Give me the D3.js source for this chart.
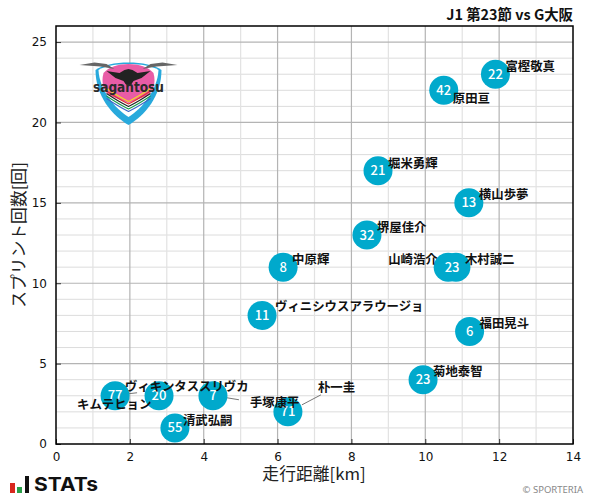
<!DOCTYPE html>
<html><head><meta charset="utf-8">
<script src="https://cdnjs.cloudflare.com/ajax/libs/d3/7.8.5/d3.min.js"></script>
<style>html,body{margin:0;padding:0;background:#fff}svg{display:block}</style>
</head><body><svg id="c" width="591" height="496"></svg>
<script>
const playerNames=["富樫敬真","原田亘","堀米勇輝","横山歩夢","堺屋佳介","中原輝","山崎浩介","木村誠二","ヴィニシウスアラウージョ","福田晃斗","菊地泰智","ヴィキンタススリヴカ","キムテヒョン","手塚康平","朴一圭","清武弘嗣"];
const shirtNumbers=[22,42,21,13,32,8,23,23,11,6,23,77,20,7,71,55];
const distanceKm=[11.9,10.5,8.72,11.18,8.42,6.15,10.62,10.83,5.58,11.2,9.94,1.6,2.79,4.25,6.28,3.22];
const sprints=[23,22,17,15,13,11,11,11,8,7,4,3,3,3,2,1];
const xTicks=[0,2,4,6,8,10,12,14];
const yTicks=[0,5,10,15,20,25];
const titleText="J1 第23節 vs G大阪";
const xTitle="走行距離[km]";
const yTitle="スプリント回数[回]";

// label layout (pixel offset of the text's anchor from its point)
const labelLayout={
 "富樫敬真":{dx:10,dy:-8},"原田亘":{dx:9,dy:8},"堀米勇輝":{dx:10,dy:-8},"横山歩夢":{dx:10,dy:-9},
 "堺屋佳介":{dx:10,dy:-8},"中原輝":{dx:9,dy:-8},"山崎浩介":{dx:-60,dy:-8},"木村誠二":{dx:9,dy:-8},
 "ヴィニシウスアラウージョ":{dx:13,dy:-9},"福田晃斗":{dx:10,dy:-8},"菊地泰智":{dx:10,dy:-9},
 "キムテヒョン":{dx:-82,dy:8},"ヴィキンタススリヴカ":{dx:10,dy:-10},"手塚康平":{dx:37,dy:6},
 "朴一圭":{dx:30,dy:-25},"清武弘嗣":{dx:8,dy:-8}
};
const leaders={"ヴィキンタススリヴカ":[[13,-2],[22,-3]],"手塚康平":[[14,2],[26,4]],"朴一圭":[[14,-7],[33,-17]]};

const m={l:56,t:26,r:573,b:444};
const x=d3.scaleLinear().domain([0,14]).range([m.l,m.r]);
const y=d3.scaleLinear().domain([0,26]).range([m.b,m.t]);
const svg=d3.select("#c");
const cjk="'Noto Sans CJK JP','Noto Sans',sans-serif";
const latin="'DejaVu Sans',sans-serif";

const grid=svg.append("g");
grid.selectAll(".ym").data(d3.range(1,26).filter(v=>v%5)).enter().append("line")
 .attr("x1",m.l).attr("x2",m.r).attr("y1",d=>y(d)).attr("y2",d=>y(d)).attr("stroke","#dcdcdc").attr("stroke-width",1);
grid.selectAll(".xm").data(d3.range(1,14,2)).enter().append("line")
 .attr("y1",m.t).attr("y2",m.b).attr("x1",d=>x(d)).attr("x2",d=>x(d)).attr("stroke","#e2e2e2").attr("stroke-width",1.2);
grid.selectAll(".y").data(yTicks.slice(1)).enter().append("line")
 .attr("x1",m.l).attr("x2",m.r).attr("y1",d=>y(d)).attr("y2",d=>y(d)).attr("stroke","#b4b4b4").attr("stroke-width",1.2);
grid.selectAll(".x").data(xTicks.slice(1,-1)).enter().append("line")
 .attr("y1",m.t).attr("y2",m.b).attr("x1",d=>x(d)).attr("x2",d=>x(d)).attr("stroke","#b4b4b4").attr("stroke-width",1.2);

// logo
const logo=svg.append("g").attr("transform","translate(128.5,90)");
logo.append("path").attr("d","M-33,-20 C-20,-30 20,-30 33,-20 C33,6 16,26 0,35 C-16,26 -33,6 -33,-20Z").attr("fill","#28a9dc");
logo.append("path").attr("d","M-30,-20 C-18,-28 18,-28 30,-20 C29,0 14,18 0,27 C-14,18 -29,0 -30,-20Z").attr("fill","#fff");
logo.append("path").attr("d","M-25,-17 C-15,-29 15,-29 25,-17 C28,-6 24,3 18,6 L0,13 L-18,6 C-24,3 -28,-6 -25,-17Z").attr("fill","#e95ca6");
[["#f4de1e",7.5],["#e03030",10],["#222",12.5],["#1a9a4a",15],["#3c68c8",17.5]].forEach(([c,o])=>{
 logo.append("path").attr("d",`M-22,${o-9} Q-10,${o-1} 0,${o+4} Q10,${o-1} 22,${o-9}`).attr("fill","none").attr("stroke",c).attr("stroke-width",1.1);
});
logo.append("path").attr("d","M-22,-19 L-9,-17 L-4,-20 L0,-21 L4,-20 L9,-17 L22,-19 L13,-12 L5,-9 L3,-6 L0,-4 L-3,-6 L-5,-9 L-13,-12Z").attr("fill","#222");
logo.append("path").attr("d","M-49,-25 L-34,-27.5 L-22,-26 L-14,-21 L-28,-23.5Z").attr("fill","#666");
logo.append("path").attr("d","M49,-25 L34,-27.5 L22,-26 L14,-21 L28,-23.5Z").attr("fill","#666");
logo.append("text").attr("x",0).attr("y",2).attr("text-anchor","middle").attr("font-family",latin).attr("font-weight","bold").attr("font-size",14).attr("textLength",71).attr("lengthAdjust","spacingAndGlyphs").attr("fill","#2a2a2a").text("sagantosu");

// axes
const ax=svg.append("g").attr("transform",`translate(0,${m.b})`).call(d3.axisBottom(x).tickValues(xTicks).tickFormat(d3.format("d")).tickSizeInner(-5).tickSizeOuter(0).tickPadding(8));
const ay=svg.append("g").attr("transform",`translate(${m.l},0)`).call(d3.axisLeft(y).tickValues(yTicks).tickFormat(d3.format("d")).tickSizeInner(-5).tickSizeOuter(0).tickPadding(9));
[ax,ay].forEach(a=>{a.selectAll("text").attr("font-family",latin).attr("font-size",12).attr("fill","#111");
 a.select(".domain").remove();a.selectAll("line").attr("stroke","#333").attr("stroke-width",1);});
svg.append("rect").attr("x",m.l).attr("y",m.t).attr("width",m.r-m.l).attr("height",m.b-m.t).attr("fill","none").attr("stroke","#000").attr("stroke-width",1.5);

const data=playerNames.map((n,i)=>({n,num:shirtNumbers[i],x:distanceKm[i],y:sprints[i]}));
data.filter(d=>leaders[d.n]).forEach(d=>{
 const [a,b]=leaders[d.n];
 svg.append("line").attr("x1",x(d.x)+a[0]).attr("y1",y(d.y)+a[1]).attr("x2",x(d.x)+b[0]).attr("y2",y(d.y)+b[1]).attr("stroke","#777").attr("stroke-width",1);
});
const pts=svg.append("g");
pts.selectAll("circle").data(data).enter().append("circle").attr("cx",d=>x(d.x)).attr("cy",d=>y(d.y)).attr("r",14.5).attr("fill","#00a9cc");
// points with the same number and count share one centred number
const groups=d3.rollups(data,v=>({num:v[0].num,y:v[0].y,x:d3.mean(v,d=>d.x)}),d=>d.num+"|"+d.y).map(g=>g[1]);
pts.selectAll(".num").data(groups).enter().append("text").attr("x",d=>x(d.x)).attr("y",d=>y(d.y)+4.5)
 .attr("text-anchor","middle").attr("font-family",cjk).attr("font-size",13).attr("font-weight",500).attr("fill","#fff").text(d=>d.num);
svg.append("g").selectAll("text").data(data).enter().append("text")
 .attr("x",d=>x(d.x)+labelLayout[d.n].dx).attr("y",d=>y(d.y)+labelLayout[d.n].dy+5)
 .attr("font-family",cjk).attr("font-size",12.4).attr("font-weight",700).attr("fill","#111").text(d=>d.n);

svg.append("text").attr("x",573).attr("y",20).attr("text-anchor","end").attr("font-family",cjk).attr("font-weight",700).attr("font-size",14.4).attr("fill","#111").text(titleText);
svg.append("text").attr("x",314).attr("y",480).attr("text-anchor","middle").attr("font-family",cjk).attr("font-size",16.8).attr("fill","#222").text(xTitle);
svg.append("text").attr("transform","translate(25,235) rotate(-90)").attr("text-anchor","middle").attr("font-family",cjk).attr("font-size",16.8).attr("fill","#222").text(yTitle);

// footer
const f=svg.append("g");
[["#d8281e",10,483,5,10],["#2aa04a",17,487,5,6],["#111",25,476,4,17]].forEach(([c,a,b,w,h])=>f.append("rect").attr("x",a).attr("y",b).attr("width",w).attr("height",h).attr("fill",c));
f.append("text").attr("x",34).attr("y",491).attr("font-family","Inter,sans-serif").attr("font-weight",700).attr("font-size",19).attr("textLength",64).attr("lengthAdjust","spacingAndGlyphs").attr("fill","#111").text("STATs");
svg.append("text").attr("x",583).attr("y",493).attr("text-anchor","end").attr("font-family","'Noto Sans',sans-serif").attr("font-size",9.5).attr("fill","#888").text("© SPORTERIA");
</script></body></html>
